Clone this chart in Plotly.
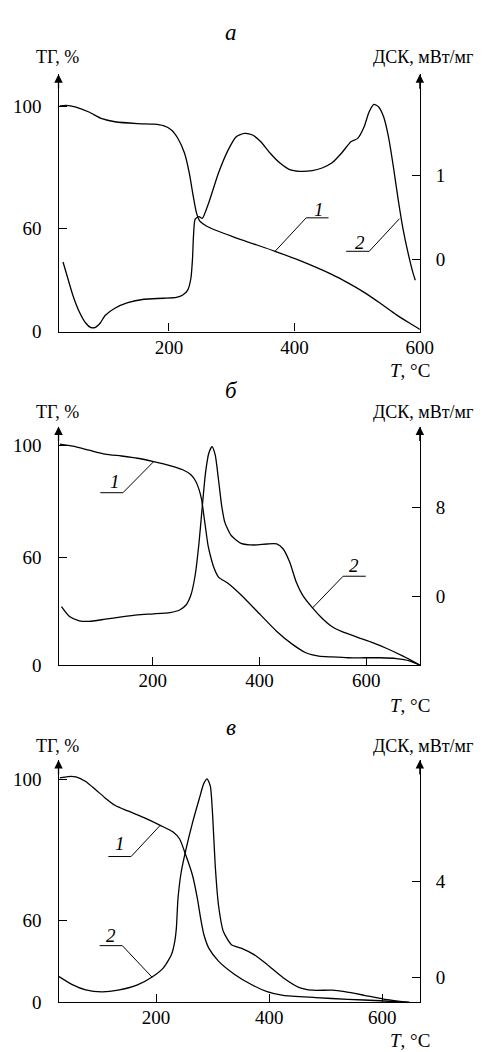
import plotly.graph_objects as go

# ---------------- Panel а ----------------
a_tg_T = [26, 36, 51.8, 72.4, 93.2, 113.8, 149.8, 175.7, 191.2, 204, 214.4, 224.8, 232.5, 238.7,
          243.8, 249, 263.5, 304.7, 369.2, 408, 459.5, 485.4, 511.2, 537, 562.8, 583.4, 600]
a_tg = [100.2, 100.4, 99.8, 98.2, 96.0, 95.0, 94.4, 94.2, 93.7, 92.3, 89.5, 84.7, 78.1, 70.6,
        65.1, 62.4, 60.3, 57.0, 52.4, 49.4, 44.8, 42.0, 38.9, 35.3, 31.5, 28.8, 26.7]
a_dsc_T = [31.2, 38.9, 46.7, 56.9, 67.3, 75.0, 82.8, 90.5, 98.3, 113.8, 134.4, 160.2, 191.2, 211.8,
           222.1, 229.9, 235.0, 237.6, 239.2, 241.8, 248.0, 253.1, 263.5, 279.0, 294.5, 307.3,
           320.2, 333.2, 346.1, 361.5, 377.0, 392.5, 408.0, 428.6, 444.1, 459.5, 475.0, 490.5,
           500.9, 511.2, 519.0, 526.7, 534.4, 542.2, 549.9, 557.7, 565.4, 573.2, 580.9, 588.6, 592.7]
a_dsc = [-0.028, -0.223, -0.418, -0.614, -0.750, -0.802, -0.802, -0.750, -0.661, -0.575, -0.509,
         -0.469, -0.457, -0.446, -0.418, -0.360, -0.223, 0.012, 0.285, 0.481, 0.511, 0.488, 0.675,
         1.027, 1.301, 1.457, 1.496, 1.477, 1.399, 1.261, 1.144, 1.067, 1.047, 1.055, 1.086, 1.144,
         1.261, 1.399, 1.437, 1.574, 1.750, 1.840, 1.809, 1.692, 1.457, 1.106, 0.715, 0.363, 0.089,
         -0.145, -0.243]

# ---------------- Panel б ----------------
b_tg_T = [26.2, 50.6, 80.7, 111.1, 141.5, 171.6, 202.0, 232.4, 256.5, 271.6, 280.7, 286.9, 291.6,
          296.0, 300.2, 303.8, 308.0, 314.2, 323.3, 341.5, 365.6, 402.0, 432.4, 462.5, 486.9,
          511.1, 535.3, 565.6, 596.0, 626.2, 656.5, 680.7, 700.2]
b_tg = [100.3, 99.6, 98.2, 96.8, 96.1, 95.3, 94.1, 92.7, 91.2, 89.4, 87.1, 84.1, 80.6, 74.7, 68.8,
        64.1, 60.6, 56.5, 52.9, 50.6, 46.5, 39.4, 33.5, 28.8, 25.9, 24.7, 24.4, 24.1, 24.1, 24.1,
        23.8, 23.0, 21.5]
b_dsc_T = [29.3, 44.4, 62.5, 80.7, 111.1, 141.5, 171.6, 202.0, 232.4, 250.5, 262.5, 271.6, 279.6,
           286.9, 293.0, 298.9, 305.1, 311.1, 317.1, 323.3, 329.3, 335.3, 347.5, 365.6, 389.8,
           414.2, 432.4, 444.4, 456.5, 468.7, 480.7, 498.9, 517.1, 535.3, 553.5, 583.8, 608.0,
           638.4, 668.7, 700.2]
b_dsc = [-0.95, -1.84, -2.22, -2.28, -2.08, -1.87, -1.69, -1.60, -1.48, -1.25, -0.80, 0.09, 1.87,
         4.83, 8.09, 11.05, 12.83, 13.42, 12.68, 10.45, 8.09, 6.60, 5.42, 4.74, 4.59, 4.68, 4.68,
         4.23, 3.05, 1.27, 0.09, -1.04, -1.99, -2.73, -3.17, -3.71, -4.12, -4.71, -5.40, -6.20]

# ---------------- Panel в ----------------
c_tg_T = [29.9, 44.3, 58.5, 75.7, 92.9, 110.0, 127.2, 150.0, 178.7, 207.4, 230.2, 241.7, 253.0,
          264.5, 273.1, 278.8, 284.6, 293.2, 310.4, 338.9, 367.6, 396.2, 424.7, 482.1, 539.2,
          596.4, 647.9]
c_tg = [100.5, 100.9, 100.8, 99.5, 97.2, 94.8, 92.7, 91.1, 89.2, 87.0, 85.1, 83.1, 78.3, 72.7,
        66.1, 60.5, 55.8, 52.0, 48.3, 44.5, 41.7, 39.6, 38.5, 37.9, 37.4, 37.0, 36.5]
c_dsc_T = [27.1, 52.9, 75.7, 104.4, 132.9, 167.2, 193.0, 213.0, 227.3, 233.1, 235.9, 238.8, 244.5,
           253.0, 264.5, 276.0, 284.6, 290.3, 296.0, 300.1, 304.6, 310.4, 319.0, 333.2, 350.4,
           373.2, 396.2, 424.7, 453.4, 476.2, 510.6, 533.6, 567.9, 602.2, 647.9]
c_dsc = [0.07, -0.30, -0.51, -0.59, -0.52, -0.30, 0.03, 0.41, 0.96, 1.51, 2.06, 3.29, 4.39, 5.34,
         6.44, 7.40, 8.08, 8.26, 7.95, 6.71, 4.66, 3.01, 1.92, 1.37, 1.23, 0.96, 0.55, 0.0, -0.41,
         -0.52, -0.52, -0.58, -0.73, -0.89, -1.03]

# tick labels
x_ticks = [200, 400, 600]
tg_ticktext = ["0", "60", "100"]

# per-panel axis settings
panels = [
    dict(name="а", T=(a_tg_T, a_dsc_T), Y=(a_tg, a_dsc), xr=[24, 600], tgr=[26, 110.6],
         dr=[-0.852, 2.196], dticks=[0, 1], top=67, bottom=327,
         labels=[("1", 438.9, 66.3, [418.8, 454.4], 63.4, (369.2, 52.4), "right"),
                 ("2", 504.0, 55.3, [482.5, 519.3], 52.4, (567.4, 63.1), "left")]),
    dict(name="б", T=(b_tg_T, b_dsc_T), Y=(b_tg, b_dsc), xr=[23.8, 700.2], tgr=[21.5, 106.6],
         dr=[-6.2, 15.23], dticks=[0, 8], top=423, bottom=664,
         labels=[("1", 129.5, 87.1, [102.0, 144.4], 83.0, (202.0, 94.1), "left"),
                 ("2", 577.8, 57.1, [556.5, 598.9], 53.2, (498.9, 41.8), "right")]),
    dict(name="в", T=(c_tg_T, c_dsc_T), Y=(c_tg, c_dsc), xr=[27.6, 666.3], tgr=[36.5, 105.6],
         dr=[-1.03, 9.04], dticks=[0, 4], top=760, bottom=1005,
         labels=[("1", 135.8, 81.7, [115.7, 155.9], 78.1, (207.4, 87.0), "left"),
                 ("2", 120.3, 55.6, [100.3, 140.4], 52.7, (193.0, 43.7), "left")]),
]

W, H = 489, 1052
XL, XR = 52, 424
SERIF = "Liberation Serif, Times New Roman, DejaVu Serif, serif"
LW = 1.3

fig = go.Figure()
layout = dict(width=W, height=H, autosize=False, margin=dict(l=0, r=0, t=0, b=0),
              paper_bgcolor="white", plot_bgcolor="white", showlegend=False,
              font=dict(family=SERIF, size=19, color="black"))
annotations = []


def txt_ann(text, x, y, size, xref="paper", yref="paper"):
    if xref == "paper":
        x = x / W
        y = 1 - y / H
    return dict(text=text, x=x, y=y, xref=xref, yref=yref, showarrow=False,
                xanchor="center", yanchor="middle",
                font=dict(family=SERIF, size=size, color="black"))


for i, p in enumerate(panels):
    xn = "" if i == 0 else str(i + 1)
    y1n = str(2 * i + 1) if i > 0 else ""
    y2n = str(2 * i + 2)
    dom_y = [1 - p["bottom"] / H, 1 - p["top"] / H]
    dom_x = [XL / W, XR / W]
    axcommon = dict(showline=True, linecolor="black", linewidth=LW, showgrid=False, zeroline=False,
                    ticks="inside", ticklen=8, tickwidth=LW, tickcolor="black",
                    tickfont=dict(family=SERIF, size=19, color="black"))
    layout["xaxis" + xn] = dict(domain=dom_x, range=p["xr"], anchor="y" + y1n,
                                tickvals=x_ticks, ticklabelstandoff=-2, **axcommon)
    layout["yaxis" + y1n] = dict(domain=dom_y, range=p["tgr"], anchor="x" + xn,
                                 tickvals=[p["tgr"][0], 60, 100], ticktext=tg_ticktext,
                                 ticklabelstandoff=12, **axcommon)
    layout["yaxis" + y2n] = dict(domain=dom_y, range=p["dr"], anchor="x" + xn, side="right",
                                 overlaying="y" + y1n, tickvals=p["dticks"], ticklabelstandoff=11,
                                 **axcommon)
    xa = "x" + xn
    ya1 = "y" + y1n
    ya2 = "y" + y2n
    fig.add_trace(go.Scatter(x=p["T"][0], y=p["Y"][0], mode="lines", xaxis=xa, yaxis=ya1,
                             line=dict(color="black", width=LW, shape="spline", smoothing=0.6),
                             hoverinfo="skip"))
    fig.add_trace(go.Scatter(x=p["T"][1], y=p["Y"][1], mode="lines", xaxis=xa, yaxis=ya2,
                             line=dict(color="black", width=LW, shape="spline", smoothing=0.6),
                             hoverinfo="skip"))
    # curve labels with leader lines
    for (txt, tx, ty, ux, uy, tip, side) in p["labels"]:
        start = ux[0] if side == "right" else ux[1]
        other = ux[1] if side == "right" else ux[0]
        fig.add_trace(go.Scatter(x=[other, start, tip[0]], y=[uy, uy, tip[1]], mode="lines",
                                 xaxis=xa, yaxis=ya1, line=dict(color="black", width=1.0),
                                 hoverinfo="skip"))
        annotations.append(txt_ann("<i>" + txt + "</i>", tx, ty, 19, xref=xa, yref=ya1))
    # panel title
    title_y = {0: 25, 1: 386.7, 2: 726.7}[i]
    annotations.append(txt_ann("<i>" + p["name"] + "</i>", 230, title_y, 23))
    lab_y = {0: 50, 1: 408.3, 2: 745.5}[i]
    annotations.append(txt_ann("ТГ, %", 50.7, lab_y, 18))
    annotations.append(txt_ann("ДСК, мВт/мг", 427, lab_y, 18))
    t_y = {0: 366.7, 1: 705, 2: 1043}[i]
    annotations.append(txt_ann("<i>T</i>, °C", 413.5, t_y, 19))
    # arrows on top of vertical axes
    for xa_px in (XL, XR):
        annotations.append(dict(text="", x=xa_px / W, y=dom_y[1], xref="paper", yref="paper",
                                ax=0, ay=16, axref="pixel", ayref="pixel", showarrow=True,
                                arrowhead=2, arrowsize=1.3, arrowwidth=LW, arrowcolor="black"))

layout["annotations"] = annotations
fig.update_layout(**layout)
fig.write_html("out.html")
